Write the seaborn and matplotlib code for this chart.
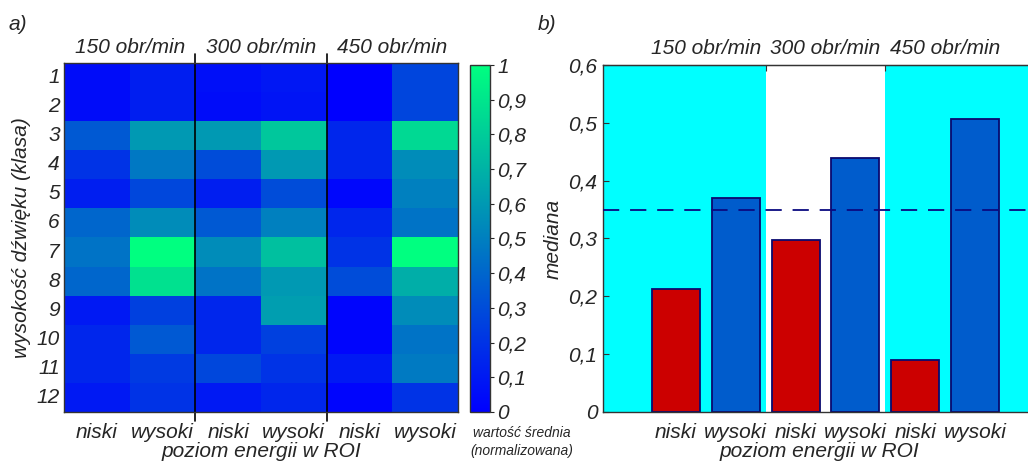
import numpy as np
import pandas as pd
import seaborn as sns
import matplotlib.pyplot as plt

# --- data ---
klasy = [str(i) for i in range(1, 13)]
kolumny = ["150 niski", "150 wysoki", "300 niski", "300 wysoki", "450 niski", "450 wysoki"]
poziom = ["niski", "wysoki", "niski", "wysoki", "niski", "wysoki"]
predkosci = ["150 obr/min", "300 obr/min", "450 obr/min"]

srednia = [
    [0.05, 0.12, 0.06, 0.09, 0.00, 0.27],
    [0.05, 0.12, 0.05, 0.08, 0.00, 0.27],
    [0.35, 0.60, 0.60, 0.78, 0.15, 0.85],
    [0.20, 0.47, 0.30, 0.60, 0.15, 0.55],
    [0.12, 0.28, 0.12, 0.30, 0.03, 0.50],
    [0.40, 0.55, 0.35, 0.50, 0.15, 0.45],
    [0.45, 1.00, 0.55, 0.75, 0.20, 1.00],
    [0.40, 0.88, 0.45, 0.60, 0.30, 0.68],
    [0.10, 0.25, 0.15, 0.62, 0.02, 0.55],
    [0.15, 0.35, 0.15, 0.25, 0.02, 0.45],
    [0.15, 0.23, 0.28, 0.20, 0.10, 0.48],
    [0.10, 0.20, 0.10, 0.15, 0.02, 0.20],
]
mediana = [0.212, 0.370, 0.297, 0.440, 0.090, 0.507]
prog = 0.35

sns.set_style("ticks")
plt.rcParams['font.family'] = ['Liberation Sans Narrow', 'Liberation Sans', 'DejaVu Sans']
plt.rcParams['font.style'] = 'italic'
plt.rcParams['font.size'] = 15

fig = plt.figure(figsize=(10.28, 4.66), dpi=100)
ax1 = fig.add_axes([0.0623, 0.1159, 0.3832, 0.7489])
cax = fig.add_axes([0.4572, 0.1159, 0.0195, 0.7446])
ax2 = fig.add_axes([0.5866, 0.1159, 0.4200, 0.7446])

# --- a) heatmap ---
df = pd.DataFrame(srednia, index=klasy, columns=kolumny)
sns.heatmap(df, ax=ax1, cmap="winter", vmin=0, vmax=1, cbar_ax=cax)
for s in ax1.spines.values():
    s.set_visible(True)
    s.set_color("#333333")
    s.set_linewidth(1.0)
ax1.set_xticks(np.arange(6) + 0.5)
ax1.set_xticklabels(poziom, rotation=0, fontsize=15)
ax1.set_yticks(np.arange(12) + 0.5)
ax1.set_yticklabels(klasy, rotation=0, fontsize=15)
ax1.tick_params(axis="y", direction="in", left=True, right=True, length=4, color="#333333", pad=3)
ax1.tick_params(axis="x", direction="in", top=True, bottom=True, length=4, color="#333333", pad=8)
for xv in [2, 4]:
    ax1.plot([xv, xv], [-0.3, 12.3], color="black", lw=1.2, clip_on=False)
for i, p in enumerate(predkosci):
    ax1.text(2 * i + 1, -0.2, p, ha="center", va="bottom", fontsize=15)
ax1.set_xlabel("poziom energii w ROI", fontsize=15, labelpad=0)
ax1.set_ylabel("wysokość dźwięku (klasa)", fontsize=15, labelpad=4)

cb = ax1.collections[0].colorbar
ticks = np.round(np.arange(0, 1.01, 0.1), 1)
cb.set_ticks(ticks)
cb.set_ticklabels(["0"] + [f"{t:.1f}".replace(".", ",") for t in ticks[1:-1]] + ["1"])
cax.tick_params(labelsize=15, length=3, pad=2)
cb.outline.set_edgecolor("#333333")
cb.outline.set_linewidth(1.0)
cax.text(2.6, -0.04, "wartość średnia\n(normalizowana)", transform=cax.transAxes,
         ha="center", va="top", fontsize=10, linespacing=1.4)

# --- b) bar chart ---
bars = pd.DataFrame({"grupa": kolumny, "poziom": poziom, "mediana": mediana})
ax2.axvspan(-1.22, 1.5, color="#00ffff", zorder=0, lw=0)
ax2.axvspan(3.5, 6.0, color="#00ffff", zorder=0, lw=0)
sns.barplot(data=bars, x="grupa", y="mediana", hue="poziom", dodge=False,
            palette={"niski": "#cc0000", "wysoki": "#005ccc"}, width=0.8, saturation=1,
            edgecolor="#0a0a70", linewidth=1.3, legend=False, ax=ax2, zorder=2)
ax2.axhline(prog, color="#0a0a80", lw=1.3, dashes=(9, 6), zorder=3)
ax2.set_xlim(-1.22, 6.0)
ax2.set_ylim(0, 0.6)
ax2.set_yticks(np.round(np.arange(0, 0.61, 0.1), 1))
ax2.set_yticklabels(["0"] + [f"{t:.1f}".replace(".", ",") for t in np.arange(0.1, 0.61, 0.1)], fontsize=15)
ax2.set_xticks(range(6))
ax2.set_xticklabels(poziom, fontsize=15)
ax2.tick_params(axis="x", direction="in", length=4, color="#333333", pad=8)
ax2.tick_params(axis="y", direction="in", length=4, color="#333333", pad=4)
for side in ["top", "left", "bottom"]:
    ax2.spines[side].set_color("#333333")
    ax2.spines[side].set_linewidth(1.0)
ax2.spines["right"].set_visible(False)
top = ax2.secondary_xaxis("top")
top.set_xticks([1.5, 3.5])
top.set_xticklabels([])
top.tick_params(direction="in", length=4, color="#333333")
for i, p in enumerate(predkosci):
    ax2.text(2 * i + 0.5, 0.612, p, ha="center", va="bottom", fontsize=15)
ax2.set_xlabel("poziom energii w ROI", fontsize=15, labelpad=0)
ax2.set_ylabel("mediana", fontsize=15, labelpad=4)

fig.text(0.008, 0.935, "a)", fontsize=15)
fig.text(0.523, 0.935, "b)", fontsize=15)

fig.savefig("out.png", dpi=100)
